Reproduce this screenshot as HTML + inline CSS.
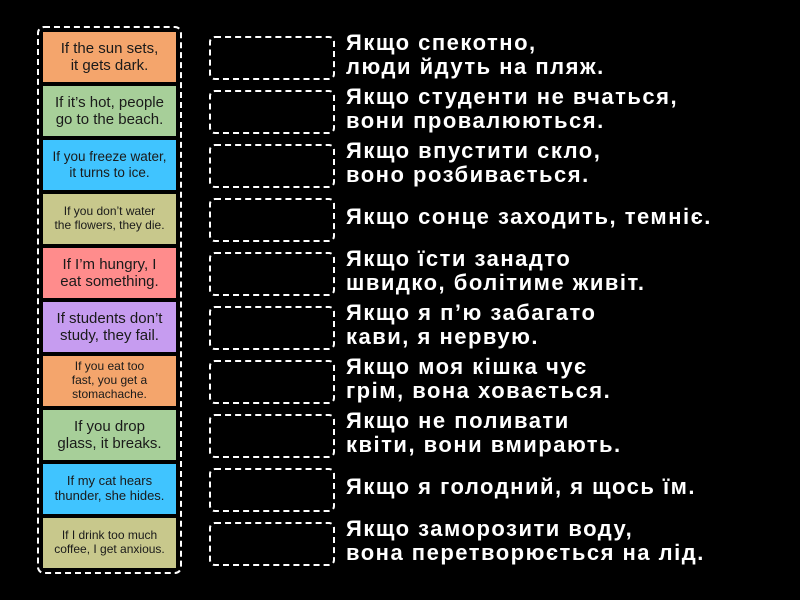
<!DOCTYPE html>
<html><head><meta charset="utf-8"><style>
body{margin:0;width:800px;height:600px;background:#000;position:relative;overflow:hidden;font-family:"Liberation Sans","DejaVu Sans",sans-serif}
.outer{position:absolute;left:37px;top:26px;width:141px;height:544px;border:2px dashed #fff;border-radius:7px}
.t{position:absolute;left:43px;width:133px;height:50px;display:flex;align-items:center;justify-content:center;text-align:center;color:#1a1a1a;line-height:1.15}
.d{position:absolute;left:209px;width:122px;height:40px;border:2px dashed #fff;border-radius:6px}
.r{position:absolute;left:346px;color:#fff;font-size:22px;line-height:24px;font-weight:bold;letter-spacing:1.5px;white-space:nowrap}
</style></head><body>
<div class="outer"></div>
<div class="t" style="top:32px;background:#f4a56c;font-size:15px">If the sun sets,<br>it gets dark.</div>
<div class="t" style="top:86px;background:#a7cf99;font-size:15px">If it’s hot, people<br>go to the beach.</div>
<div class="t" style="top:140px;background:#40c4ff;font-size:13.5px">If you freeze water,<br>it turns to ice.</div>
<div class="t" style="top:194px;background:#c8c88c;font-size:12px">If you don’t water<br>the flowers, they die.</div>
<div class="t" style="top:248px;background:#ff8c8c;font-size:15px">If I’m hungry, I<br>eat something.</div>
<div class="t" style="top:302px;background:#c69cf0;font-size:15px">If students don’t<br>study, they fail.</div>
<div class="t" style="top:356px;background:#f4a56c;font-size:12px">If you eat too<br>fast, you get a<br>stomachache.</div>
<div class="t" style="top:410px;background:#a7cf99;font-size:15px">If you drop<br>glass, it breaks.</div>
<div class="t" style="top:464px;background:#40c4ff;font-size:13px">If my cat hears<br>thunder, she hides.</div>
<div class="t" style="top:518px;background:#c8c88c;font-size:12px">If I drink too much<br>coffee, I get anxious.</div>

<div class="d" style="top:36px"></div>
<div class="d" style="top:90px"></div>
<div class="d" style="top:144px"></div>
<div class="d" style="top:198px"></div>
<div class="d" style="top:252px"></div>
<div class="d" style="top:306px"></div>
<div class="d" style="top:360px"></div>
<div class="d" style="top:414px"></div>
<div class="d" style="top:468px"></div>
<div class="d" style="top:522px"></div>

<div class="r" style="top:31px">Якщо спекотно,<br>люди йдуть на пляж.</div>
<div class="r" style="top:85px">Якщо студенти не вчаться,<br>вони провалюються.</div>
<div class="r" style="top:139px">Якщо впустити скло,<br>воно розбивається.</div>
<div class="r" style="top:205px">Якщо сонце заходить, темніє.</div>
<div class="r" style="top:247px">Якщо їсти занадто<br>швидко, болітиме живіт.</div>
<div class="r" style="top:301px">Якщо я п’ю забагато<br>кави, я нервую.</div>
<div class="r" style="top:355px">Якщо моя кішка чує<br>грім, вона ховається.</div>
<div class="r" style="top:409px">Якщо не поливати<br>квіти, вони вмирають.</div>
<div class="r" style="top:475px">Якщо я голодний, я щось їм.</div>
<div class="r" style="top:517px">Якщо заморозити воду,<br>вона перетворюється на лід.</div>
</body></html>
